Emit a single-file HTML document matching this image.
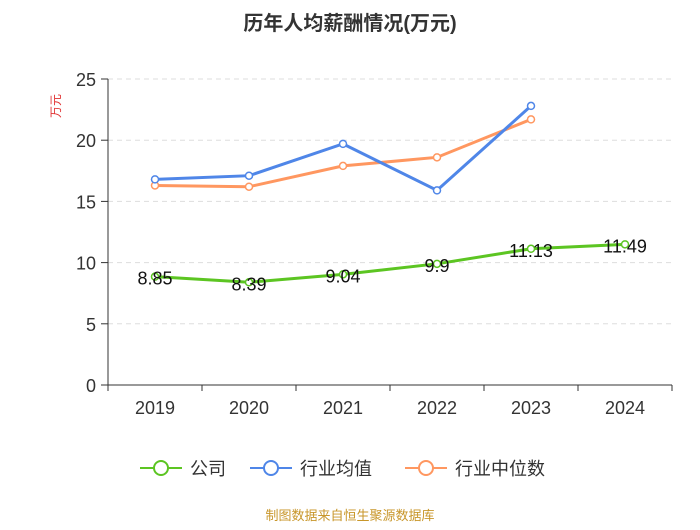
<!DOCTYPE html>
<html><head><meta charset="utf-8"><style>
body{margin:0;background:#fff;font-family:"Liberation Sans","Noto Sans CJK SC",sans-serif;}
svg text{font-family:"Liberation Sans","Noto Sans CJK SC",sans-serif;}
</style></head><body>
<svg id="c" width="700" height="525" xmlns="http://www.w3.org/2000/svg">
<text x="350" y="30" text-anchor="middle" font-size="20" font-weight="bold" fill="#333">历年人均薪酬情况(万元)</text>
<text transform="translate(60,106) rotate(-90)" text-anchor="middle" font-size="12" fill="#e03030">万元</text>
<g id="grid"></g><g id="axes"></g><g id="series"></g>
<g>
<g><line x1="140" y1="468" x2="182" y2="468" stroke="#5cc522" stroke-width="2"/><circle cx="161" cy="468" r="7" fill="#fff" stroke="#5cc522" stroke-width="2"/><text x="190" y="475" font-size="18" fill="#333">公司</text></g>
<g><line x1="250" y1="468" x2="292" y2="468" stroke="#4f86e8" stroke-width="2"/><circle cx="271" cy="468" r="7" fill="#fff" stroke="#4f86e8" stroke-width="2"/><text x="300" y="475" font-size="18" fill="#333">行业均值</text></g>
<g><line x1="405" y1="468" x2="447" y2="468" stroke="#ff9760" stroke-width="2"/><circle cx="426" cy="468" r="7" fill="#fff" stroke="#ff9760" stroke-width="2"/><text x="455" y="475" font-size="18" fill="#333">行业中位数</text></g>
</g>
<text x="350" y="520" text-anchor="middle" font-size="13" fill="#c8962a">制图数据来自恒生聚源数据库</text>
</svg>
<script>
const categories=["2019","2020","2021","2022","2023","2024"];
const company=[8.85,8.39,9.04,9.9,11.13,11.49];
const industryMean=[16.8,17.1,19.7,15.9,22.8,null];
const industryMedian=[16.3,16.2,17.9,18.6,21.7,null];
const yTicks=[0,5,10,15,20,25];
const NS="http://www.w3.org/2000/svg";
const x0=108,x1=672,yB=385,yT=79;
const band=(x1-x0)/categories.length;
const xs=i=>x0+band*(i+0.5);
const ys=v=>yB-(v/25)*(yB-yT);
function mk(p,t,a){const e=document.createElementNS(NS,t);for(const k in a)e.setAttribute(k,a[k]);p.appendChild(e);return e;}
const grid=document.getElementById('grid'),axes=document.getElementById('axes'),ser=document.getElementById('series');
yTicks.forEach(v=>{
 if(v>0){const l=mk(grid,'line',{x1:x0,x2:x1,y1:ys(v),y2:ys(v),stroke:'#ddd','stroke-dasharray':'5,4'});
 
 }
 const t=mk(axes,'text',{x:96,y:ys(v)+7,'text-anchor':'end','font-size':18,fill:'#333'});t.textContent=v;
 
 
 mk(axes,'line',{x1:101,x2:x0,y1:ys(v),y2:ys(v),stroke:'#333'});
});
mk(axes,'line',{x1:x0,x2:x0,y1:yT,y2:yB,stroke:'#333'});
mk(axes,'line',{x1:x0,x2:x1,y1:yB,y2:yB,stroke:'#333'});
categories.forEach((c,i)=>{
 const t=mk(axes,'text',{x:xs(i),y:414,'text-anchor':'middle','font-size':18,fill:'#333'});t.textContent=c;
 
 
 mk(axes,'line',{x1:x0+band*i,x2:x0+band*i,y1:yB,y2:yB+6,stroke:'#333'});
});
mk(axes,'line',{x1:x1,x2:x1,y1:yB,y2:yB+6,stroke:'#333'});
function draw(vals,color,name,labels){
 const pts=vals.map((v,i)=>v==null?null:[xs(i),ys(v)]).filter(p=>p);
 const p=mk(ser,'polyline',{points:pts.map(p=>p.join(',')).join(' '),fill:'none',stroke:color,'stroke-width':3});
 
 
 vals.forEach((v,i)=>{if(v==null)return;
  const c=mk(ser,'circle',{cx:xs(i),cy:ys(v),r:3.5,fill:'#fff',stroke:color,'stroke-width':1.5});
  
  
  if(labels){const t=mk(ser,'text',{x:xs(i),y:ys(v)+8,'text-anchor':'middle','font-size':18,fill:'#111'});t.textContent=v;
   
   }
 });
}
draw(industryMedian,'#ff9760','industry-median',false);
draw(industryMean,'#4f86e8','industry-mean',false);
draw(company,'#5cc522','company',true);
</script>
</body></html>
